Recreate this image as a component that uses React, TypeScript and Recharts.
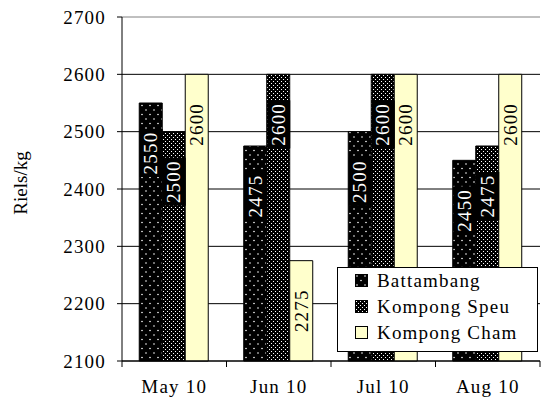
import React from 'react';
import { BarChart, Bar, XAxis, YAxis, CartesianGrid, Legend, LabelList } from 'recharts';

// monthly rice price by province (Riels/kg)
const categories = ['May 10', 'Jun 10', 'Jul 10', 'Aug 10'];
const battambang = [2550, 2475, 2500, 2450];
const kompongSpeu = [2500, 2600, 2600, 2475];
const kompongCham = [2600, 2275, 2600, 2600];
const yTicks = [2100, 2200, 2300, 2400, 2500, 2600, 2700];

const SERIES = [
  { key: 'battambang', name: 'Battambang', fill: 'url(#battDots)', dark: true },
  { key: 'kompongSpeu', name: 'Kompong Speu', fill: 'url(#speuDots)', dark: true },
  { key: 'kompongCham', name: 'Kompong Cham', fill: '#FFFFCC', dark: false },
];

const FONT = '"Liberation Serif", "Times New Roman", serif';
const FONT_SIZE = 19;
const SPACING = 1.2;

const data = categories.map((month, i) => ({
  month,
  battambang: battambang[i],
  kompongSpeu: kompongSpeu[i],
  kompongCham: kompongCham[i],
}));

function PatternDefs() {
  return (
    <defs>
      <pattern id="battDots" width={8} height={9} patternUnits="userSpaceOnUse">
        <rect width={8} height={9} fill="#000" />
        <circle cx={2} cy={2} r={0.8} fill="#fff" />
        <circle cx={6} cy={6.5} r={0.8} fill="#fff" />
      </pattern>
      <pattern id="speuDots" width={4} height={4} patternUnits="userSpaceOnUse">
        <rect width={4} height={4} fill="#000" />
        <rect x={1} y={1} width={1} height={1} fill="#fff" />
        <rect x={3} y={3} width={1} height={1} fill="#fff" />
      </pattern>
    </defs>
  );
}

/**
 * Rotated value label, boxed in black on the dark bars
 */
function makeBarLabel(dark: boolean) {
  return (props: any) => {
    const { x, y, width, value } = props;
    const cx = Number(x) + Number(width) / 2;
    const cy = Number(y) + 50;
    return (
      <g>
        {dark && <rect x={cx - 11} y={cy - 24} width={23} height={48} fill="#000" />}
        <text
          x={cx}
          y={cy}
          transform={`rotate(-90, ${cx}, ${cy})`}
          textAnchor="middle"
          dominantBaseline="central"
          fill={dark ? '#fff' : '#000'}
          fontFamily={FONT}
          fontSize={FONT_SIZE}
          letterSpacing={SPACING}
        >
          {value}
        </text>
      </g>
    );
  };
}

function MonthTick(props: any) {
  const { x, y, payload, index, width, visibleTicksCount } = props;
  const half = width / visibleTicksCount / 2;
  return (
    <g>
      <line x1={x - half} y1={y} x2={x - half} y2={y + 6} stroke="#000" />
      {index === visibleTicksCount - 1 && (
        <line x1={x + half} y1={y} x2={x + half} y2={y + 6} stroke="#000" />
      )}
      <text
        x={x}
        y={y + 32}
        textAnchor="middle"
        fill="#000"
        fontFamily={FONT}
        fontSize={FONT_SIZE}
        letterSpacing={SPACING}
      >
        {payload.value}
      </text>
    </g>
  );
}

function GridLine(props: any) {
  const { x1, y1, x2, y2 } = props;
  return <line key={`h-${y1}`} x1={x1} y1={y1} x2={x2} y2={y2} stroke={y1 < 20 ? '#808080' : '#000'} strokeWidth={1} />;
}

function LegendBox() {
  return (
    <div
      style={{
        width: 201,
        height: 85,
        boxSizing: 'border-box',
        border: '1px solid #000',
        background: '#fff',
        fontFamily: FONT,
        fontSize: FONT_SIZE,
        letterSpacing: SPACING,
        color: '#000',
      }}
    >
      {SERIES.map((s) => (
        <div key={s.key} style={{ height: 26, display: 'flex', alignItems: 'center', paddingLeft: 17 }}>
          <svg width={14} height={14} style={{ marginRight: 8 }}>
            <rect x={0.5} y={0.5} width={12} height={12} fill={s.fill} stroke="#000" />
          </svg>
          <span>{s.name}</span>
        </div>
      ))}
    </div>
  );
}

export default function App() {
  return (
    <div style={{ width: 544, height: 404, background: '#fff' }}>
      <style>{'body{margin:0}'}</style>
      <BarChart
        width={544}
        height={404}
        data={data}
        margin={{ top: 17, right: 4, left: 0, bottom: 0 }}
        barCategoryGap="16.5%"
        barGap={0}
      >
        <PatternDefs />
        <CartesianGrid vertical={false} horizontal={GridLine as any} />
        <XAxis
          dataKey="month"
          height={43}
          axisLine={{ stroke: '#000' }}
          tickLine={false}
          tickSize={0}
          tickMargin={0}
          tick={<MonthTick />}
          interval={0}
        />
        <YAxis
          width={122}
          domain={[2100, 2700]}
          ticks={yTicks}
          interval={0}
          axisLine={{ stroke: '#000' }}
          tickLine={{ stroke: '#000' }}
          tickSize={5}
          tickMargin={11}
          tick={{ fill: '#000', fontFamily: FONT, fontSize: FONT_SIZE, letterSpacing: SPACING }}
          label={{
            content: (p: any) => {
              const cx = 20;
              const cy = p.viewBox.y + p.viewBox.height / 2 - 6;
              return (
                <text
                  x={cx}
                  y={cy}
                  transform={`rotate(-90, ${cx}, ${cy})`}
                  textAnchor="middle"
                  dominantBaseline="central"
                  fontFamily={FONT}
                  fontSize={FONT_SIZE}
                  fill="#000"
                >
                  Riels/kg
                </text>
              );
            },
          }}
        />
        {SERIES.map((s) => (
          <Bar
            key={s.key}
            dataKey={s.key}
            name={s.name}
            fill={s.fill}
            stroke="#000"
            strokeWidth={1}
            isAnimationActive={false}
          >
            <LabelList dataKey={s.key} content={makeBarLabel(s.dark)} />
          </Bar>
        ))}
        <Legend
          layout="vertical"
          align="center"
          verticalAlign="middle"
          content={<LegendBox />}
          wrapperStyle={{ position: 'absolute', left: 337, top: 267, width: 201, height: 85 }}
        />
      </BarChart>
    </div>
  );
}
